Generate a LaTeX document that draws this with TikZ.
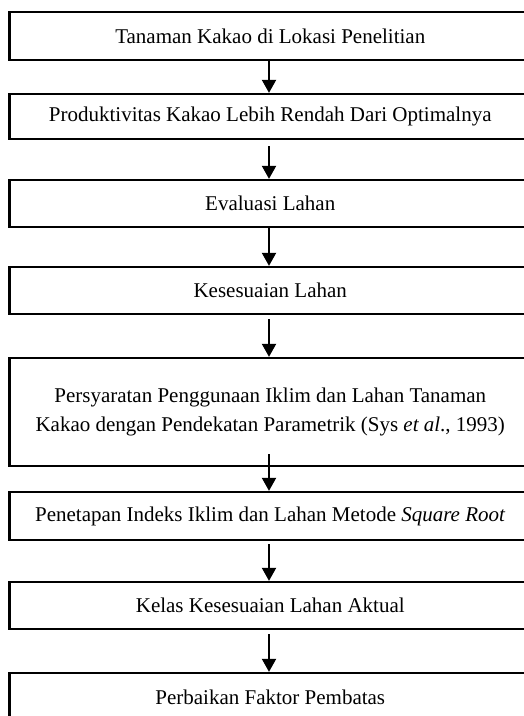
\documentclass[tikz,border=0pt]{standalone}
\usepackage{fontspec}
\setmainfont{Liberation Serif}
\usetikzlibrary{arrows.meta}
\begin{document}
\begin{tikzpicture}[x=1pt,y=1pt,
  box/.style={draw, line width=2.3pt, minimum width=521.5pt, inner sep=0pt,
    font=\fontsize{21}{29}\selectfont, align=center, anchor=center},
  conn/.style={line width=2pt, -{Triangle[width=14pt,length=13pt]}}]
\useasboundingbox (0,0) rectangle (524,716);
\clip (0,0) rectangle (524,716);
\node[box, minimum height=48pt]  (b1) at (270.25,680)   {Tanaman Kakao di Lokasi Penelitian};
\node[box, minimum height=45pt]  (b2) at (270.25,599.5) {Produktivitas Kakao Lebih Rendah Dari Optimalnya};
\node[box, minimum height=47pt]  (b3) at (270.25,512.5) {Evaluasi Lahan};
\node[box, minimum height=47pt]  (b4) at (270.25,425.5) {Kesesuaian Lahan};
\node[box, minimum height=108pt] (b5) at (270.25,304)   {Persyaratan Penggunaan Iklim dan Lahan Tanaman\\Kakao dengan Pendekatan Parametrik (Sys \textit{et al}., 1993)};
\node[box, minimum height=48pt]  (b6) at (270.25,200)   {Penetapan Indeks Iklim dan Lahan Metode \textit{Square Root}};
\node[box, minimum height=47pt]  (b7) at (270.25,110.5) {Kelas Kesesuaian Lahan Aktual};
\node[box, minimum height=48pt]  (b8) at (270.25,19)    {Perbaikan Faktor Pembatas};
\draw[conn] ([xshift=-1.25pt]b1.south) -- ([xshift=-1.25pt]b2.north);
\draw[conn] ([xshift=-1.25pt,yshift=-6pt]b2.south) -- ([xshift=-1.25pt]b3.north);
\draw[conn] ([xshift=-1.25pt]b3.south) -- ([xshift=-1.25pt]b4.north);
\draw[conn] ([xshift=-1.25pt,yshift=-4pt]b4.south) -- ([xshift=-1.25pt]b5.north);
\draw[conn] ([xshift=-1.25pt,yshift=13pt]b5.south) -- ([xshift=-1.25pt]b6.north);
\draw[conn] ([xshift=-1.25pt,yshift=-3pt]b6.south) -- ([xshift=-1.25pt]b7.north);
\draw[conn] ([xshift=-1.25pt,yshift=-4pt]b7.south) -- ([xshift=-1.25pt]b8.north);
\end{tikzpicture}
\end{document}
